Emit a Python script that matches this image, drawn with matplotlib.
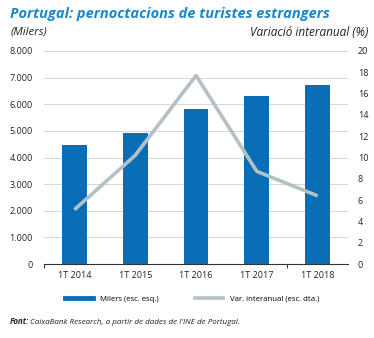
import matplotlib
matplotlib.use("Agg")
from matplotlib import pyplot as plt
from matplotlib.lines import Line2D

plt.rcParams['font.family'] = ['Open Sans', 'DejaVu Sans']

categories = ['1T 2014', '1T 2015', '1T 2016', '1T 2017', '1T 2018']
milers = [4470, 4920, 5825, 6315, 6730]
var_interanual = [5.1, 10.2, 17.7, 8.7, 6.4]
left_ticks = [0, 1000, 2000, 3000, 4000, 5000, 6000, 7000, 8000]
left_labels = ['0', '1.000', '2.000', '3.000', '4.000', '5.000', '6.000', '7.000', '8.000']
right_ticks = list(range(0, 21, 2))

bar_col = '#0a6eb6'
line_col = '#b3c1c7'
title_col = '#1b87c9'
txt = '#222222'

fig = plt.figure(figsize=(3.74, 3.38), dpi=100)
ax = fig.add_axes([44/374, 1 - 264/338, 304/374, 213/338])
x = list(range(len(categories)))

ax.bar(x, milers, width=0.41, color=bar_col, zorder=2)
ax.set_xlim(-0.5, 4.5)
ax.set_ylim(0, 8000)
ax.set_yticks(left_ticks)
ax.set_yticklabels(left_labels)
for t in left_ticks[1:]:
    ax.axhline(t, color='#d6d6d6', lw=0.7, zorder=1)
for s in ['top', 'right', 'left']:
    ax.spines[s].set_visible(False)
ax.spines['bottom'].set_color('#333333')
ax.spines['bottom'].set_linewidth(0.8)
ax.tick_params(axis='y', length=0, labelsize=6.5, labelcolor=txt, pad=8)
ax.set_xticks(x)
ax.set_xticklabels(categories)
ax.tick_params(axis='x', length=0, labelsize=6.5, labelcolor=txt, pad=5)
ax.set_xticks([-0.5, 3.5], minor=True)
ax.tick_params(axis='x', which='minor', length=3, width=0.7, color='#333333', direction='out')

ax2 = ax.twinx()
ax2.plot(x, var_interanual, color=line_col, lw=2.6, zorder=3, solid_capstyle='butt')
ax2.set_ylim(0, 20)
ax2.set_yticks(right_ticks)
for s in ['top', 'right', 'left', 'bottom']:
    ax2.spines[s].set_visible(False)
ax2.tick_params(axis='y', length=0, labelsize=6.5, labelcolor=txt, pad=7)

fig.text(10/374, 1 - 14/338, 'Portugal: pernoctacions de turistes estrangers',
         fontsize=10.5, fontweight='bold', fontstyle='italic', color=title_col, va='center')
fig.text(11/374, 1 - 32/338, '(Milers)', fontsize=8.2, fontstyle='italic', color=txt, va='center')
fig.text(368/374, 1 - 32/338, 'Variació interanual (%)', fontsize=8.5, fontstyle='italic',
         color=txt, va='center', ha='right')

handles = [Line2D([0], [0], color=bar_col, lw=3.5), Line2D([0], [0], color=line_col, lw=2.6)]
fig.legend(handles, ['Milers (esc. esq.)', 'Var. interanual (esc. dta.)'],
           loc='center', bbox_to_anchor=(192/374, 1 - 299/338), ncol=2, frameon=False,
           fontsize=5.6, handlelength=3.6, columnspacing=4.6, handletextpad=0.9)

fig.text(10/374, 1 - 322/338, r'Font:', fontsize=5.8, fontweight='bold', fontstyle='italic',
         color=txt, va='center')
fig.text(30/374, 1 - 322/338, "CaixaBank Research, a partir de dades de l'INE de Portugal.",
         fontsize=5.8, fontstyle='italic', color=txt, va='center')

fig.savefig('out.png', dpi=100)
